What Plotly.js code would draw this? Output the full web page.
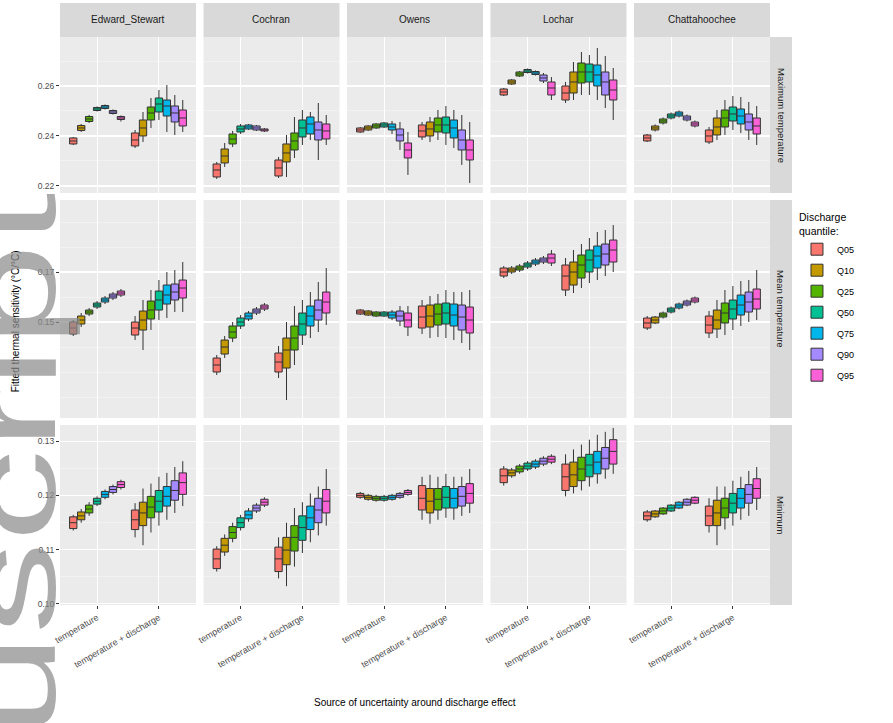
<!DOCTYPE html>
<html><head><meta charset="utf-8">
<script src="https://cdn.plot.ly/plotly-3.0.1.min.js"></script>
<style>
html,body{margin:0;padding:0;background:#fff;overflow:hidden}
#wrap{position:relative;width:893px;height:723px;overflow:hidden}
#plot{width:893px;height:723px}
#wm{position:absolute;left:0;top:0;transform-origin:0 0;transform:translate(-47px,737px) rotate(-90deg) scaleX(1.54);
 font-family:"Liberation Sans",Arial,sans-serif;font-size:120px;line-height:1;white-space:nowrap;color:rgba(140,140,140,0.72);pointer-events:none}
</style>
</head><body><div id="wrap"><div id="plot"></div><div id="wm">uscript</div></div>
<script>
// ---- categories / labels ----
const sites = ["Edward_Stewart", "Cochran", "Owens", "Lochar", "Chattahoochee"];
const rowLabels = ["Maximum temperature", "Mean temperature", "Minimum"];
const sources = ["temperature", "temperature + discharge"];
const quantiles = ["Q05", "Q10", "Q25", "Q50", "Q75", "Q90", "Q95"];
const qColors = ["#F8766D", "#C49A00", "#53B400", "#00C094", "#00B6EB", "#A58AFF", "#FB61D7"];

// ---- box statistics [lower, q1, median, q3, upper]; first 7 = temperature (Q05..Q95), next 7 = temperature + discharge ----
const edward_r1 = [
 [0.2364,0.2368,0.2380,0.2392,0.2396],[0.2416,0.2422,0.2432,0.2442,0.2448],[0.2452,0.2458,0.2468,0.2478,0.2484],
 [0.2498,0.2502,0.2508,0.2514,0.2518],[0.2506,0.2510,0.2516,0.2522,0.2526],[0.2486,0.2490,0.2496,0.2502,0.2506],
 [0.2458,0.2466,0.2472,0.2478,0.2482],
 [0.2352,0.2360,0.2384,0.2412,0.2424],[0.2376,0.2400,0.2432,0.2464,0.2496],[0.2432,0.2464,0.2492,0.2516,0.2552],
 [0.2464,0.2496,0.2528,0.2552,0.2584],[0.2416,0.2480,0.2520,0.2544,0.2604],[0.2404,0.2456,0.2492,0.2520,0.2564],
 [0.2416,0.2440,0.2472,0.2504,0.2544]];
const cochran_r1 = [
 [0.2228,0.2236,0.2264,0.2288,0.2296],[0.2276,0.2292,0.2320,0.2348,0.2372],[0.2356,0.2368,0.2388,0.2408,0.2420],
 [0.2408,0.2416,0.2428,0.2440,0.2448],[0.2424,0.2428,0.2436,0.2444,0.2448],[0.2420,0.2424,0.2432,0.2440,0.2444],
 [0.2416,0.2420,0.2424,0.2428,0.2432],
 [0.2232,0.2240,0.2272,0.2304,0.2316],[0.2236,0.2296,0.2332,0.2368,0.2404],[0.2312,0.2344,0.2380,0.2412,0.2476],
 [0.2364,0.2396,0.2432,0.2464,0.2504],[0.2384,0.2408,0.2448,0.2476,0.2496],[0.2304,0.2384,0.2424,0.2456,0.2532],
 [0.2364,0.2388,0.2420,0.2448,0.2484]];
const owens_r1 = [
 [0.2412,0.2416,0.2424,0.2432,0.2436],[0.2420,0.2424,0.2432,0.2440,0.2444],[0.2428,0.2432,0.2440,0.2448,0.2452],
 [0.2432,0.2436,0.2444,0.2452,0.2456],[0.2408,0.2424,0.2436,0.2448,0.2460],[0.2344,0.2380,0.2404,0.2428,0.2456],
 [0.2244,0.2312,0.2344,0.2372,0.2416],
 [0.2384,0.2396,0.2420,0.2444,0.2456],[0.2376,0.2400,0.2428,0.2456,0.2476],[0.2384,0.2416,0.2444,0.2472,0.2504],
 [0.2364,0.2412,0.2444,0.2476,0.2520],[0.2352,0.2392,0.2432,0.2464,0.2504],[0.2284,0.2344,0.2384,0.2424,0.2484],
 [0.2212,0.2304,0.2344,0.2384,0.2456]];
const lochar_r1 = [
 [0.2560,0.2564,0.2576,0.2588,0.2592],[0.2604,0.2608,0.2616,0.2624,0.2628],[0.2636,0.2640,0.2648,0.2656,0.2660],
 [0.2650,0.2654,0.2660,0.2666,0.2670],[0.2642,0.2646,0.2652,0.2658,0.2662],[0.2612,0.2620,0.2632,0.2644,0.2652],
 [0.2544,0.2564,0.2592,0.2616,0.2636],
 [0.2532,0.2544,0.2572,0.2600,0.2616],[0.2544,0.2572,0.2616,0.2656,0.2696],[0.2564,0.2612,0.2656,0.2692,0.2736],
 [0.2564,0.2616,0.2656,0.2688,0.2724],[0.2544,0.2600,0.2644,0.2684,0.2752],[0.2512,0.2564,0.2616,0.2656,0.2720],
 [0.2464,0.2544,0.2584,0.2624,0.2672]];
const chatta_r1 = [
 [0.2376,0.2380,0.2392,0.2404,0.2408],[0.2418,0.2424,0.2432,0.2440,0.2446],[0.2446,0.2452,0.2460,0.2468,0.2474],
 [0.2466,0.2472,0.2480,0.2488,0.2494],[0.2474,0.2480,0.2488,0.2496,0.2502],[0.2458,0.2464,0.2472,0.2480,0.2486],
 [0.2434,0.2440,0.2448,0.2456,0.2462],
 [0.2368,0.2376,0.2400,0.2424,0.2436],[0.2384,0.2404,0.2436,0.2472,0.2504],[0.2404,0.2436,0.2472,0.2504,0.2544],
 [0.2424,0.2460,0.2488,0.2516,0.2560],[0.2412,0.2448,0.2480,0.2508,0.2556],[0.2384,0.2424,0.2456,0.2488,0.2536],
 [0.2364,0.2408,0.2440,0.2472,0.2520]];

const edward_r2 = [
 [0.1444,0.1452,0.1476,0.1500,0.1508],[0.1480,0.1492,0.1508,0.1524,0.1536],[0.1524,0.1532,0.1540,0.1548,0.1556],
 [0.1552,0.1560,0.1568,0.1576,0.1584],[0.1572,0.1580,0.1588,0.1596,0.1604],[0.1588,0.1596,0.1604,0.1612,0.1620],
 [0.1600,0.1608,0.1616,0.1624,0.1632],
 [0.1428,0.1448,0.1476,0.1500,0.1524],[0.1388,0.1468,0.1508,0.1544,0.1588],[0.1468,0.1512,0.1548,0.1584,0.1628],
 [0.1508,0.1548,0.1588,0.1624,0.1668],[0.1516,0.1572,0.1608,0.1648,0.1700],[0.1540,0.1588,0.1620,0.1652,0.1708],
 [0.1540,0.1596,0.1636,0.1668,0.1740]];
const cochran_r2 = [
 [0.1288,0.1300,0.1328,0.1356,0.1368],[0.1356,0.1372,0.1400,0.1428,0.1444],[0.1420,0.1436,0.1460,0.1484,0.1500],
 [0.1472,0.1484,0.1500,0.1516,0.1528],[0.1504,0.1512,0.1524,0.1536,0.1544],[0.1528,0.1536,0.1544,0.1552,0.1560],
 [0.1544,0.1552,0.1560,0.1568,0.1576],
 [0.1276,0.1300,0.1340,0.1376,0.1404],[0.1188,0.1316,0.1388,0.1436,0.1500],[0.1328,0.1388,0.1436,0.1484,0.1564],
 [0.1408,0.1448,0.1492,0.1536,0.1588],[0.1436,0.1484,0.1524,0.1564,0.1620],[0.1460,0.1508,0.1548,0.1588,0.1660],
 [0.1488,0.1536,0.1580,0.1620,0.1716]];
const owens_r2 = [
 [0.1528,0.1532,0.1540,0.1548,0.1552],[0.1524,0.1528,0.1536,0.1544,0.1548],[0.1520,0.1524,0.1532,0.1540,0.1544],
 [0.1520,0.1524,0.1532,0.1540,0.1544],[0.1508,0.1516,0.1528,0.1540,0.1548],[0.1484,0.1504,0.1524,0.1544,0.1564],
 [0.1444,0.1480,0.1508,0.1536,0.1564],
 [0.1452,0.1476,0.1520,0.1564,0.1588],[0.1436,0.1480,0.1524,0.1568,0.1604],[0.1440,0.1488,0.1532,0.1572,0.1612],
 [0.1436,0.1492,0.1536,0.1576,0.1628],[0.1428,0.1484,0.1528,0.1572,0.1620],[0.1416,0.1468,0.1520,0.1568,0.1620],
 [0.1388,0.1456,0.1508,0.1560,0.1628]];
const lochar_r2 = [
 [0.1676,0.1684,0.1700,0.1716,0.1724],[0.1692,0.1700,0.1708,0.1716,0.1724],[0.1700,0.1708,0.1716,0.1724,0.1732],
 [0.1712,0.1720,0.1728,0.1736,0.1744],[0.1724,0.1732,0.1740,0.1748,0.1756],[0.1732,0.1740,0.1748,0.1756,0.1764],
 [0.1724,0.1736,0.1756,0.1772,0.1788],
 [0.1604,0.1628,0.1684,0.1728,0.1756],[0.1616,0.1648,0.1700,0.1740,0.1788],[0.1636,0.1676,0.1728,0.1768,0.1812],
 [0.1656,0.1700,0.1748,0.1788,0.1836],[0.1668,0.1716,0.1764,0.1804,0.1860],[0.1684,0.1728,0.1772,0.1812,0.1868],
 [0.1700,0.1740,0.1788,0.1828,0.1888]];
const chatta_r2 = [
 [0.1468,0.1476,0.1496,0.1516,0.1524],[0.1492,0.1496,0.1508,0.1520,0.1524],[0.1514,0.1520,0.1528,0.1536,0.1542],
 [0.1534,0.1540,0.1548,0.1556,0.1562],[0.1550,0.1556,0.1564,0.1572,0.1578],[0.1562,0.1568,0.1576,0.1584,0.1590],
 [0.1574,0.1580,0.1588,0.1596,0.1602],
 [0.1436,0.1456,0.1488,0.1524,0.1544],[0.1436,0.1472,0.1508,0.1548,0.1588],[0.1448,0.1496,0.1536,0.1576,0.1628],
 [0.1468,0.1512,0.1552,0.1588,0.1644],[0.1484,0.1528,0.1568,0.1608,0.1664],[0.1500,0.1540,0.1580,0.1620,0.1668],
 [0.1508,0.1552,0.1592,0.1632,0.1708]];

const edward_r3 = [
 [0.11352,0.11388,0.11496,0.11604,0.11640],[0.11496,0.11550,0.11622,0.11694,0.11748],[0.11622,0.11676,0.11748,0.11820,0.11874],
 [0.11802,0.11838,0.11892,0.11946,0.11982],[0.11928,0.11964,0.12018,0.12072,0.12108],[0.12018,0.12054,0.12108,0.12162,0.12198],
 [0.12108,0.12144,0.12198,0.12252,0.12288],
 [0.11226,0.11370,0.11550,0.11730,0.11856],[0.11082,0.11442,0.11676,0.11874,0.12126],[0.11316,0.11586,0.11784,0.11982,0.12216],
 [0.11442,0.11694,0.11892,0.12090,0.12342],[0.11550,0.11802,0.11982,0.12162,0.12414],[0.11676,0.11910,0.12090,0.12270,0.12522],
 [0.11802,0.12018,0.12234,0.12414,0.12630]];
const cochran_r3 = [
 [0.10596,0.10650,0.10830,0.11010,0.11064],[0.10884,0.10956,0.11082,0.11208,0.11280],[0.11136,0.11208,0.11316,0.11424,0.11496],
 [0.11352,0.11406,0.11496,0.11586,0.11640],[0.11514,0.11568,0.11640,0.11712,0.11766],[0.11676,0.11712,0.11766,0.11820,0.11856],
 [0.11784,0.11820,0.11874,0.11928,0.11964],
 [0.10470,0.10596,0.10830,0.11046,0.11226],[0.10326,0.10722,0.10992,0.11226,0.11496],[0.10686,0.10974,0.11226,0.11442,0.11766],
 [0.10938,0.11172,0.11406,0.11622,0.11874],[0.11136,0.11370,0.11586,0.11802,0.12036],[0.11262,0.11496,0.11730,0.11946,0.12162],
 [0.11442,0.11676,0.11892,0.12108,0.12486]];
const owens_r3 = [
 [0.11937,0.11964,0.12000,0.12036,0.12063],[0.11901,0.11928,0.11964,0.12000,0.12027],[0.11883,0.11910,0.11946,0.11982,0.12009],
 [0.11883,0.11910,0.11946,0.11982,0.12009],[0.11901,0.11928,0.11964,0.12000,0.12027],[0.11937,0.11964,0.12000,0.12036,0.12063],
 [0.11991,0.12018,0.12054,0.12090,0.12117],
 [0.11550,0.11730,0.11946,0.12180,0.12342],[0.11478,0.11676,0.11892,0.12126,0.12378],[0.11550,0.11730,0.11928,0.12126,0.12342],
 [0.11586,0.11766,0.11964,0.12162,0.12396],[0.11550,0.11766,0.11946,0.12126,0.12342],[0.11622,0.11802,0.11982,0.12162,0.12342],
 [0.11676,0.11856,0.12036,0.12216,0.12486]];
const lochar_r3 = [
 [0.12180,0.12234,0.12360,0.12486,0.12540],[0.12324,0.12360,0.12414,0.12468,0.12504],[0.12396,0.12432,0.12486,0.12540,0.12576],
 [0.12450,0.12486,0.12540,0.12594,0.12630],[0.12486,0.12522,0.12576,0.12630,0.12666],[0.12540,0.12576,0.12630,0.12684,0.12720],
 [0.12576,0.12612,0.12666,0.12720,0.12756],
 [0.11982,0.12090,0.12342,0.12576,0.12756],[0.12036,0.12162,0.12378,0.12612,0.12846],[0.12090,0.12270,0.12486,0.12702,0.12936],
 [0.12162,0.12342,0.12558,0.12756,0.13026],[0.12216,0.12396,0.12612,0.12810,0.13116],[0.12306,0.12486,0.12684,0.12882,0.13170],
 [0.12396,0.12576,0.12810,0.13026,0.13242]];
const chatta_r3 = [
 [0.11514,0.11550,0.11622,0.11694,0.11730],[0.11586,0.11604,0.11658,0.11712,0.11730],[0.11640,0.11658,0.11712,0.11766,0.11784],
 [0.11694,0.11712,0.11766,0.11820,0.11838],[0.11748,0.11766,0.11820,0.11874,0.11892],[0.11802,0.11820,0.11874,0.11928,0.11946],
 [0.11838,0.11856,0.11910,0.11964,0.11982],
 [0.11316,0.11442,0.11622,0.11802,0.11946],[0.11082,0.11442,0.11676,0.11910,0.12162],[0.11370,0.11586,0.11766,0.11946,0.12162],
 [0.11442,0.11676,0.11856,0.12036,0.12270],[0.11550,0.11766,0.11946,0.12126,0.12342],[0.11622,0.11856,0.12018,0.12198,0.12450],
 [0.11730,0.11946,0.12126,0.12306,0.12522]];

const panels = [
  [edward_r1, cochran_r1, owens_r1, lochar_r1, chatta_r1],
  [edward_r2, cochran_r2, owens_r2, lochar_r2, chatta_r2],
  [edward_r3, cochran_r3, owens_r3, lochar_r3, chatta_r3]
];
const yRanges = [[0.2172, 0.2796], [0.1116, 0.1988], [0.0998, 0.13296]];
const yTicks = [[0.22, 0.24, 0.26], [0.15, 0.17], [0.10, 0.11, 0.12, 0.13]];
const yMinor = [0.01, 0.01, 0.005];
const yTickText = [["0.22", "0.24", "0.26"], ["0.15", "0.17"], ["0.10", "0.11", "0.12", "0.13"]];

// ---- layout geometry ----
const colStart = [0, 0.2021, 0.4042, 0.6063, 0.8084];
const colW = 0.19155;
const rowDom = [[0.7254, 1], [0.3292, 0.7130], [0, 0.3169]];
const FONT = "Liberation Sans, Arial, sans-serif";
const slot = 0.9 / 7;      // dodge slot per quantile (ggplot width 0.9)
const boxW = slot * 0.92;

const traces = [];
const layout = {
  width: 893, height: 723,
  margin: {l: 60, r: 123, t: 37, b: 118},
  paper_bgcolor: "#FFFFFF", plot_bgcolor: "#EBEBEB",
  boxmode: "overlay",
  font: {family: FONT, size: 9, color: "#4D4D4D"},
  showlegend: true,
  legend: {x: 1.038, y: 0.700, xanchor: "left", yanchor: "top",
    title: {text: "Discharge<br>quantile:", font: {size: 10.5, color: "#000"}},
    font: {size: 9, color: "#000"}, tracegroupgap: 2, itemwidth: 30, bgcolor: "rgba(0,0,0,0)"},
  shapes: [], annotations: []
};

for (let r = 0; r < 3; r++) {
  for (let c = 0; c < 5; c++) {
    const n = r * 5 + c + 1;
    const sfx = n === 1 ? "" : String(n);
    layout["xaxis" + sfx] = {
      domain: [colStart[c], colStart[c] + colW], anchor: "y" + sfx,
      range: [0.4, 2.6], tickvals: [1, 2], ticktext: sources,
      showgrid: true, gridcolor: "#FFFFFF", gridwidth: 1.1,
      zeroline: false, showline: false, fixedrange: true,
      showticklabels: r === 2, ticks: r === 2 ? "outside" : "", ticklen: 3, tickcolor: "#333333",
      tickangle: -30, tickfont: {size: 9, color: "#4D4D4D"}
    };
    layout["yaxis" + sfx] = {
      domain: rowDom[r], anchor: "x" + sfx,
      range: yRanges[r], tickvals: yTicks[r], ticktext: yTickText[r],
      showgrid: true, gridcolor: "#FFFFFF", gridwidth: 1.1,
      minor: {dtick: yMinor[r], showgrid: true, gridcolor: "#F6F6F6", gridwidth: 0.6, ticks: ""},
      zeroline: false, showline: false, fixedrange: true,
      showticklabels: c === 0, ticks: c === 0 ? "outside" : "", ticklen: 3, tickcolor: "#333333",
      tickfont: {size: 8.5, color: "#4D4D4D"}
    };
    const data = panels[r][c];
    for (let k = 0; k < 7; k++) {
      const a = data[k], b = data[7 + k];
      const off = (k - 3) * slot;
      traces.push({
        type: "box", name: quantiles[k], legendgroup: quantiles[k], showlegend: n === 1,
        x: [1 + off, 2 + off], width: boxW,
        lowerfence: [a[0], b[0]], q1: [a[1], b[1]], median: [a[2], b[2]],
        q3: [a[3], b[3]], upperfence: [a[4], b[4]],
        fillcolor: qColors[k], line: {color: "#333333", width: 1},
        whiskerwidth: 0, boxpoints: false, hoverinfo: "skip",
        xaxis: "x" + sfx, yaxis: "y" + sfx
      });
    }
  }
}

// top strips
for (let c = 0; c < 5; c++) {
  layout.shapes.push({type: "rect", xref: "paper", yref: "paper",
    x0: colStart[c], x1: colStart[c] + colW, y0: 1.0, y1: 1.0599,
    fillcolor: "#D9D9D9", line: {width: 0}});
  layout.annotations.push({xref: "paper", yref: "paper", x: colStart[c] + colW / 2, y: 1.0300,
    text: sites[c], showarrow: false, font: {size: 10, color: "#1A1A1A"}, xanchor: "center", yanchor: "middle"});
}
// right strips
for (let r = 0; r < 3; r++) {
  layout.shapes.push({type: "rect", xref: "paper", yref: "paper",
    x0: 1.0, x1: 1.031, y0: rowDom[r][0], y1: rowDom[r][1],
    fillcolor: "#D9D9D9", line: {width: 0}});
  layout.annotations.push({xref: "paper", yref: "paper", x: 1.0155, y: (rowDom[r][0] + rowDom[r][1]) / 2,
    text: rowLabels[r], showarrow: false, textangle: 90, font: {size: 9.5, color: "#1A1A1A"},
    xanchor: "center", yanchor: "middle"});
}
// axis titles
layout.annotations.push({xref: "paper", yref: "paper", x: 0.5, y: -0.172, yanchor: "middle",
  text: "Source of uncertainty around discharge effect", showarrow: false, font: {size: 10, color: "#000"}});
layout.annotations.push({xref: "paper", yref: "paper", x: -0.063, y: 0.5, xanchor: "center",
  text: "Fitted thermal sensitivity (°C/°C)", textangle: -90, showarrow: false, font: {size: 10, color: "#000"}});

Plotly.newPlot("plot", traces, layout, {staticPlot: true, displayModeBar: false});
</script></body></html>
